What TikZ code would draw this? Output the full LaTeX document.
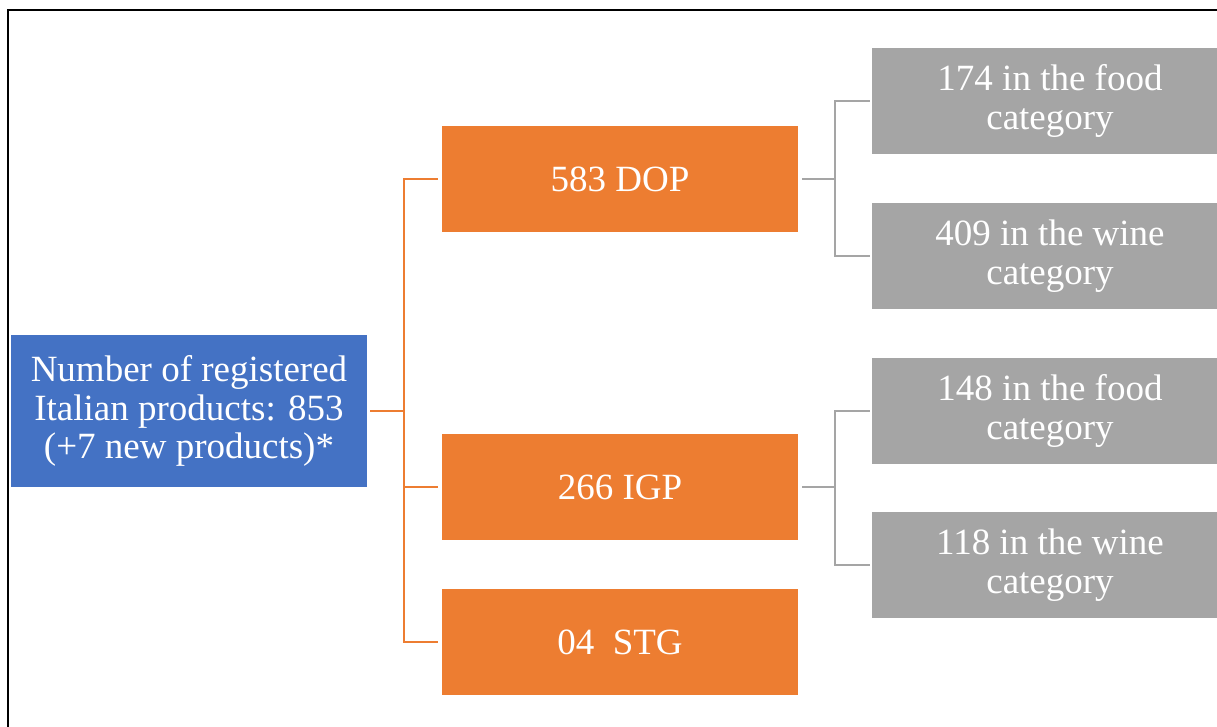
\documentclass[tikz,border=0pt]{standalone}
\usepackage{fontspec}
\setmainfont{Liberation Serif}
\definecolor{cblue}{HTML}{4472C4}
\definecolor{corange}{HTML}{ED7D31}
\definecolor{cgray}{HTML}{A5A5A5}
\begin{document}
\begin{tikzpicture}[x=1pt,y=-1pt,
  box/.style={inner sep=0pt,outer sep=0pt,text=white,align=center,font=\fontsize{37}{38.5}\selectfont},
  bluebox/.style={box,fill=cblue,minimum width=356pt,minimum height=152pt},
  orbox/.style={box,fill=corange,minimum width=356pt,minimum height=106pt},
  grbox/.style={box,fill=cgray,minimum width=356pt,minimum height=106pt},
  olink/.style={draw=corange,line width=2.5pt},
  glink/.style={draw=cgray,line width=2.5pt}]
\useasboundingbox (0,0) rectangle (1217,727);
\draw[line width=2pt] (8,740) -- (8,10) -- (1230,10);
\node[bluebox] (root) at (189,411) {Number of registered\\Italian products: 853\\(+7 new products)*};
\node[orbox] (dop) at (620,179) {583 DOP};
\node[orbox] (igp) at (620,487) {266 IGP};
\node[orbox] (stg) at (620,642) {04\ \ STG};
\node[grbox,anchor=west] (dopf) at (872,101) {174 in the food\\category};
\node[grbox,anchor=west] (dopw) at (872,256) {409 in the wine\\category};
\node[grbox,anchor=west] (igpf) at (872,411) {148 in the food\\category};
\node[grbox,anchor=west] (igpw) at (872,565) {118 in the wine\\category};
\coordinate (ot) at (404,411);
\path[olink] ([xshift=3pt]root.east) -- (ot) |- ([xshift=-4pt]dop.west);
\path[olink] (ot) |- ([xshift=-4pt]igp.west);
\path[olink] (ot) |- ([xshift=-4pt]stg.west);
\coordinate (gd) at (835,179);
\path[glink] ([xshift=4pt]dop.east) -- (gd) |- ([xshift=-2pt]dopf.west);
\path[glink] (gd) |- ([xshift=-2pt]dopw.west);
\coordinate (gi) at (835,487);
\path[glink] ([xshift=4pt]igp.east) -- (gi) |- ([xshift=-2pt]igpf.west);
\path[glink] (gi) |- ([xshift=-2pt]igpw.west);
\end{tikzpicture}
\end{document}
